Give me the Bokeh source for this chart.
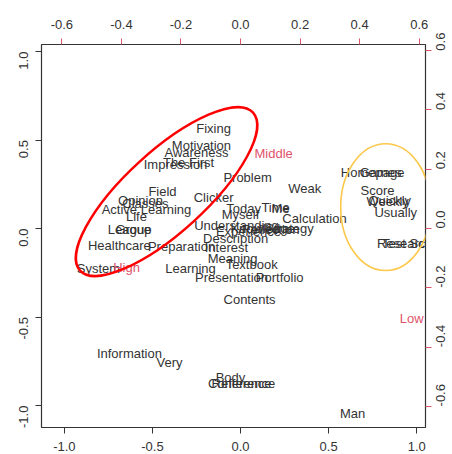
from bokeh.plotting import figure
from bokeh.models import Range1d, LinearAxis, FixedTicker, ColumnDataSource, NumeralTickFormatter
from bokeh.core.properties import value
from bokeh.embed import file_html
from bokeh.resources import INLINE
import math

# ---- column (word) coordinates, primary scale ----
col_labels = ["Fixing", "Motivation", "Awareness", "Impression", "The First", "Problem", "Weak",
              "Homepage", "Games", "Field", "Opinion", "Classes", "Clicker", "Score", "Weekly",
              "Quickly", "Usually", "Active Learning", "Today", "Time", "Me", "Myself", "Calculation",
              "Life", "Understanding", "Experience", "Strategy", "Knowledge", "Reflection", "League",
              "Group", "Healthcare", "Description", "Preparation", "Interest", "Meaning", "Textbook",
              "System", "Learning", "Presentation", "Portfolio", "Contents", "Information", "Very",
              "Body", "Conference", "Reference", "Man", "Research", "Test Score"]
col_x = [-0.153, -0.222, -0.250, -0.369, -0.295, 0.040, 0.364,
         0.750, 0.795, -0.443, -0.568, -0.540, -0.153, 0.778, 0.835,
         0.847, 0.881, -0.534, 0.017, 0.199, 0.227, 0.000, 0.420,
         -0.591, -0.023, 0.045, 0.278, 0.125, 0.170, -0.631,
         -0.608, -0.688, -0.028, -0.335, -0.080, -0.045, 0.063,
         -0.807, -0.284, -0.051, 0.222, 0.051, -0.631, -0.403,
         -0.057, 0.006, 0.006, 0.636, 0.932, 0.977]
col_y = [0.565, 0.469, 0.429, 0.362, 0.373, 0.288, 0.226,
         0.316, 0.316, 0.209, 0.158, 0.141, 0.175, 0.215, 0.153,
         0.158, 0.090, 0.107, 0.113, 0.119, 0.113, 0.079, 0.056,
         0.068, 0.017, -0.017, 0.000, 0.000, -0.006, -0.006,
         -0.006, -0.096, -0.056, -0.102, -0.107, -0.169, -0.203,
         -0.226, -0.226, -0.277, -0.277, -0.401, -0.706, -0.757,
         -0.842, -0.876, -0.876, -1.045, -0.085, -0.085]

# ---- row (level) coordinates, secondary scale ----
row_labels = ["Middle", "High", "Low"]
row_x = [0.111, -0.383, 0.575]
row_y = [0.253, -0.132, -0.304]

# ---- axis ticks ----
bottom_ticks = [-1.0, -0.5, 0.0, 0.5, 1.0]
left_ticks = [-1.0, -0.5, 0.0, 0.5, 1.0]
top_ticks = [-0.6, -0.4, -0.2, 0.0, 0.2, 0.4, 0.6]
right_ticks = [-0.6, -0.4, -0.2, 0.0, 0.2, 0.4, 0.6]

# ---- highlighted clusters (ellipses) ----
ell_x = [-0.42, 0.824]
ell_y = [0.209, 0.121]
ell_w = [1.33, 0.511]
ell_h = [0.455, 0.717]
ell_angle = [0.74, 0.0]
ell_colors = ["#FF0000", "#FBC84A"]
ell_widths = [2.5, 1.6]

xr = (-1.13, 1.05)
yr = (-1.124, 1.04)
sx = 176.0 / 297.5
sy = 177.0 / 296.5

RED = "#DF536B"
TXT = "#333333"

p = figure(width=452, height=454, output_backend="svg", toolbar_location=None,
           x_range=Range1d(*xr), y_range=Range1d(*yr),
           min_border_left=41, min_border_right=27, min_border_top=44, min_border_bottom=27,
           x_axis_location=None, y_axis_location=None)
p.extra_x_ranges = {"x2": Range1d(xr[0] * sx, xr[1] * sx)}
p.extra_y_ranges = {"y2": Range1d(yr[0] * sy, yr[1] * sy)}

p.xgrid.visible = False
p.ygrid.visible = False
p.outline_line_color = "#333333"
p.outline_line_width = 1.2
p.background_fill_color = "white"
p.border_fill_color = "white"


def style_axis(ax, ticks, tick_color, standoff, orient=None):
    ax.ticker = FixedTicker(ticks=ticks)
    ax.formatter = NumeralTickFormatter(format="0.0")
    ax.axis_line_color = None
    ax.major_tick_line_color = tick_color
    ax.major_tick_out = 6
    ax.major_tick_in = 0
    ax.minor_tick_line_color = None
    ax.major_label_standoff = standoff
    ax.major_label_text_font = "Liberation Sans"
    ax.major_label_text_font_size = "13px"
    ax.major_label_text_color = TXT
    if orient is not None:
        ax.major_label_orientation = orient


bottom = LinearAxis()
style_axis(bottom, bottom_ticks, "#333333", 8)
p.add_layout(bottom, "below")

left = LinearAxis()
style_axis(left, left_ticks, "#333333", 12, math.pi / 2)
p.add_layout(left, "left")

top = LinearAxis(x_range_name="x2")
style_axis(top, top_ticks, RED, 10)
p.add_layout(top, "above")

right = LinearAxis(y_range_name="y2")
style_axis(right, right_ticks, RED, 9, math.pi / 2)
p.add_layout(right, "right")

col_src = ColumnDataSource(dict(x=col_x, y=col_y, t=col_labels))
p.text(x="x", y="y", text="t", source=col_src, text_align="center", text_baseline="middle",
       text_font=value("Liberation Sans"), text_font_size="13px", text_color=TXT)

row_src = ColumnDataSource(dict(x=row_x, y=row_y, t=row_labels))
p.text(x="x", y="y", text="t", source=row_src, x_range_name="x2", y_range_name="y2",
       text_align="center", text_baseline="middle",
       text_font=value("Liberation Sans"), text_font_size="13px", text_color=RED)

for i in range(len(ell_x)):
    p.ellipse(x=[ell_x[i]], y=[ell_y[i]], width=ell_w[i], height=ell_h[i], angle=ell_angle[i],
              fill_color=None, line_color=ell_colors[i], line_width=ell_widths[i])

open("out.html", "w").write(file_html(p, INLINE))
